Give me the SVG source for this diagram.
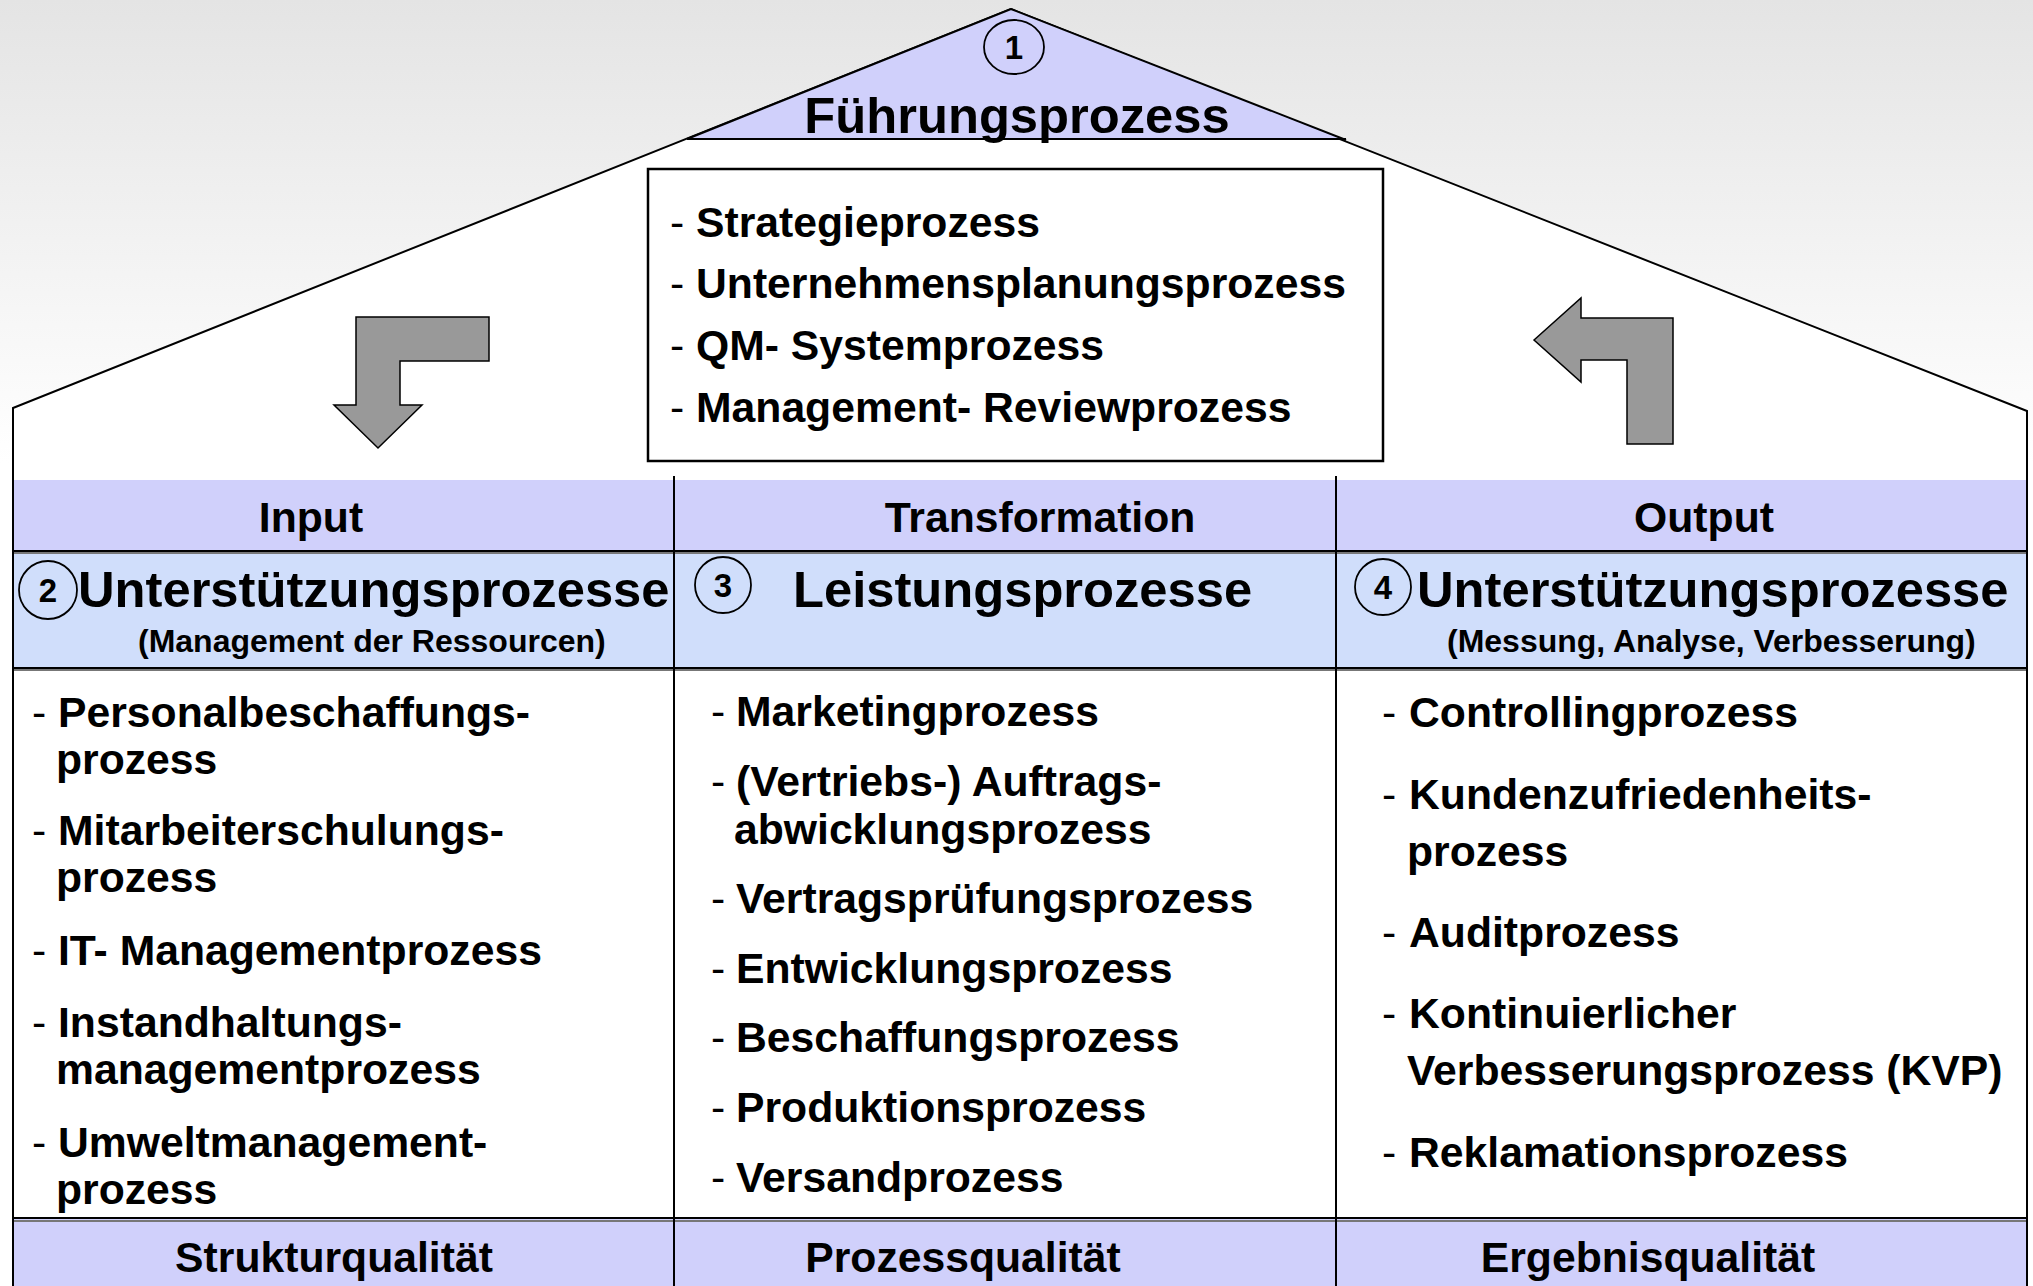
<svg xmlns="http://www.w3.org/2000/svg" width="2033" height="1286" viewBox="0 0 2033 1286">
<defs>
<linearGradient id="bg" x1="0" y1="0" x2="0" y2="1">
<stop offset="0" stop-color="#e4e4e4"/>
<stop offset="0.36" stop-color="#ffffff"/>
<stop offset="1" stop-color="#ffffff"/>
</linearGradient>
<style>
text{font-family:"Liberation Sans",Arial,Helvetica,sans-serif;font-weight:bold;fill:#000}
.b{font-size:42.7px}
.h{font-size:50.7px}
.s{font-size:32px}
.n{font-size:33px;text-anchor:middle}
.c{text-anchor:middle}
.d{font-weight:normal}
.ln{stroke:#000;stroke-width:2;fill:none}
.sh{stroke:#777;stroke-width:2;fill:none}
.arrow{fill:#999;stroke:#000;stroke-width:1.5;stroke-linejoin:miter}
.circ{fill:none;stroke:#000;stroke-width:1.8}
</style>
</defs>
<rect x="0" y="0" width="2033" height="1286" fill="url(#bg)"/>
<g id="house">
<polygon points="13,408 1011,9 2027,411 2027,1286 13,1286" fill="#fff"/>
<polyline class="ln" points="13,1286 13,408 1011,9 2027,411 2027,1286" stroke-width="1.6"/>
</g>
<g id="fuehrungsprozess">
<polygon points="687,139 1011,9 1345,140" fill="#d0d0fb"/>
<line class="ln" x1="687" y1="139" x2="1346" y2="139" stroke-width="2.5"/>
<line class="ln" x1="687" y1="139" x2="1011" y2="9" stroke-width="1.6"/>
<line class="ln" x1="1011" y1="9" x2="1346" y2="140" stroke-width="1.6"/>
<ellipse class="circ" cx="1014" cy="47" rx="30" ry="27"/>
<text class="n" x="1014" y="59">1</text>
<text class="h c" x="1017" y="133">Führungsprozess</text>
</g>
<g id="fuehrung-liste">
<rect x="648" y="169" width="735" height="292" fill="#fff" stroke="#000" stroke-width="2.5"/>
<text class="b" x="670" y="237"><tspan class="d">-</tspan><tspan x="696">Strategieprozess</tspan></text>
<text class="b" x="670" y="298"><tspan class="d">-</tspan><tspan x="696">Unternehmensplanungsprozess</tspan></text>
<text class="b" x="670" y="360"><tspan class="d">-</tspan><tspan x="696">QM- Systemprozess</tspan></text>
<text class="b" x="670" y="422"><tspan class="d">-</tspan><tspan x="696">Management- Reviewprozess</tspan></text>
</g>
<g id="pfeile">
<polygon class="arrow" points="356,317 489,317 489,361 400,361 400,405 422,405 378,448 334,405 356,405"/>
<polygon class="arrow" points="1534,340 1581,298 1581,318 1673,318 1673,444 1627,444 1627,360 1581,360 1581,382"/>
</g>
<g id="baender">
<rect x="13" y="480" width="2014" height="71" fill="#d0d0fb"/>
<rect x="13" y="551" width="2014" height="117" fill="#d0defb"/>
<rect x="13" y="1219" width="2014" height="67" fill="#d0d0fb"/>
<line class="sh" x1="13" y1="553" x2="2027" y2="553"/>
<line class="ln" x1="13" y1="551" x2="2027" y2="551"/>
<line class="sh" x1="13" y1="670" x2="2027" y2="670"/>
<line class="ln" x1="13" y1="668" x2="2027" y2="668"/>
<line class="sh" x1="13" y1="1221" x2="2027" y2="1221" stroke-width="3"/>
<line class="ln" x1="13" y1="1218" x2="2027" y2="1218"/>
<line class="ln" x1="674" y1="476" x2="674" y2="1286" stroke-width="1.6"/>
<line class="ln" x1="1336" y1="476" x2="1336" y2="1286" stroke-width="1.6"/>
<line class="ln" x1="13" y1="408" x2="13" y2="1286"/>
<line class="ln" x1="2027" y1="411" x2="2027" y2="1286"/>
</g>
<g id="input">
<text class="b c" x="311" y="532">Input</text>
<ellipse class="circ" cx="48" cy="590" rx="29" ry="29"/>
<text class="n" x="48" y="602">2</text>
<text class="h" x="78" y="607">Unterstützungsprozesse</text>
<text class="s" x="138" y="652">(Management der Ressourcen)</text>
<text class="b" x="32" y="727"><tspan class="d">-</tspan><tspan x="58">Personalbeschaffungs-</tspan></text>
<text class="b" x="56" y="774">prozess</text>
<text class="b" x="32" y="845"><tspan class="d">-</tspan><tspan x="58">Mitarbeiterschulungs-</tspan></text>
<text class="b" x="56" y="892">prozess</text>
<text class="b" x="32" y="965"><tspan class="d">-</tspan><tspan x="58">IT- Managementprozess</tspan></text>
<text class="b" x="32" y="1037"><tspan class="d">-</tspan><tspan x="58">Instandhaltungs-</tspan></text>
<text class="b" x="56" y="1084">managementprozess</text>
<text class="b" x="32" y="1157"><tspan class="d">-</tspan><tspan x="58">Umweltmanagement-</tspan></text>
<text class="b" x="56" y="1204">prozess</text>
</g>
<g id="transformation">
<text class="b c" x="1040" y="532">Transformation</text>
<ellipse class="circ" cx="723" cy="585" rx="28" ry="28"/>
<text class="n" x="723" y="597">3</text>
<text class="h" x="793" y="607">Leistungsprozesse</text>
<text class="b" x="711" y="726"><tspan class="d">-</tspan><tspan x="736">Marketingprozess</tspan></text>
<text class="b" x="711" y="796"><tspan class="d">-</tspan><tspan x="736">(Vertriebs-) Auftrags-</tspan></text>
<text class="b" x="734" y="844">abwicklungsprozess</text>
<text class="b" x="711" y="913"><tspan class="d">-</tspan><tspan x="736">Vertragsprüfungsprozess</tspan></text>
<text class="b" x="711" y="983"><tspan class="d">-</tspan><tspan x="736">Entwicklungsprozess</tspan></text>
<text class="b" x="711" y="1052"><tspan class="d">-</tspan><tspan x="736">Beschaffungsprozess</tspan></text>
<text class="b" x="711" y="1122"><tspan class="d">-</tspan><tspan x="736">Produktionsprozess</tspan></text>
<text class="b" x="711" y="1192"><tspan class="d">-</tspan><tspan x="736">Versandprozess</tspan></text>
</g>
<g id="output">
<text class="b c" x="1704" y="532">Output</text>
<ellipse class="circ" cx="1383" cy="587" rx="28" ry="28"/>
<text class="n" x="1383" y="599">4</text>
<text class="h" x="1417" y="607">Unterstützungsprozesse</text>
<text class="s" x="1447" y="652">(Messung, Analyse, Verbesserung)</text>
<text class="b" x="1382" y="727"><tspan class="d">-</tspan><tspan x="1409">Controllingprozess</tspan></text>
<text class="b" x="1382" y="809"><tspan class="d">-</tspan><tspan x="1409">Kundenzufriedenheits-</tspan></text>
<text class="b" x="1407" y="866">prozess</text>
<text class="b" x="1382" y="947"><tspan class="d">-</tspan><tspan x="1409">Auditprozess</tspan></text>
<text class="b" x="1382" y="1028"><tspan class="d">-</tspan><tspan x="1409">Kontinuierlicher</tspan></text>
<text class="b" x="1407" y="1085">Verbesserungsprozess (KVP)</text>
<text class="b" x="1382" y="1167"><tspan class="d">-</tspan><tspan x="1409">Reklamationsprozess</tspan></text>
</g>
<g id="qualitaet">
<text class="b c" x="334" y="1272">Strukturqualität</text>
<text class="b c" x="963" y="1272">Prozessqualität</text>
<text class="b c" x="1648" y="1272">Ergebnisqualität</text>
</g>
</svg>
